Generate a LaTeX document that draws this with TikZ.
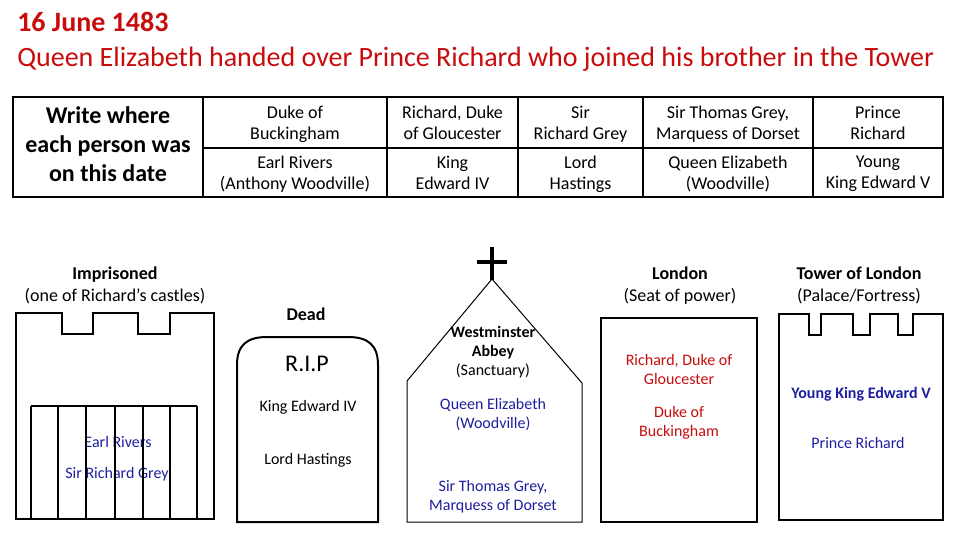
\documentclass[tikz,border=0pt]{standalone}
\usepackage{fontspec}
\setmainfont{Carlito}
\definecolor{tred}{RGB}{200,12,12}
\definecolor{tblue}{RGB}{30,30,160}
\tikzset{
  grid/.style={line width=1.5pt},
  shape line/.style={line width=1pt},
  thin line/.style={line width=0.75pt},
  struts/.style={execute at begin node=\strut, execute at end node=\strut},
  cell/.style={font=\fontsize{13.5}{15.75}\selectfont, align=center, inner sep=0pt, struts, yshift=-2.5pt},
  head/.style={font=\fontsize{13.5}{16.5}\selectfont, align=center, inner sep=0pt, struts, yshift=-2.5pt},
  inner/.style={font=\fontsize{12}{14.25}\selectfont, align=center, inner sep=0pt, struts, yshift=-1pt},
  titlefont/.style={font=\fontsize{21}{26}\selectfont, text=tred, inner sep=0pt, anchor=base west},
}
\begin{document}
\begin{tikzpicture}[x=0.75pt,y=-0.75pt]
\useasboundingbox (0,0) rectangle (960,540);

% title
\node[titlefont, font=\fontsize{21}{26}\selectfont\bfseries] (t1) at (17,31) {16 June 1483};
\node[titlefont] (t2) at (17,66) {Queen Elizabeth handed over Prince Richard who joined his brother in the Tower};

% table
\draw[grid] (13,97) rectangle (943,197);
\draw[grid] (203,97) -- (203,197);
\draw[grid] (387,97) -- (387,197);
\draw[grid] (518,97) -- (518,197);
\draw[grid] (643,97) -- (643,197);
\draw[grid] (813,97) -- (813,197);
\draw[grid] (203,148) -- (943,148);

\node[font=\fontsize{18}{21.75}\selectfont\bfseries, align=center, inner sep=0pt, struts, yshift=-3.5pt] (write) at (108,144) {Write where\\each person was\\on this date};
\node[cell] (c11) at (295,122.5) {Duke of\\Buckingham};
\node[cell] (c12) at (452.5,122.5) {Richard, Duke\\of Gloucester};
\node[cell] (c13) at (580.5,122.5) {Sir\\Richard Grey};
\node[cell] (c14) at (728,122.5) {Sir Thomas Grey,\\Marquess of Dorset};
\node[cell] (c15) at (878,122.5) {Prince\\Richard};
\node[cell] (c21) at (295,172.5) {Earl Rivers\\(Anthony Woodville)};
\node[cell] (c22) at (452.5,172.5) {King\\Edward IV};
\node[cell] (c23) at (580.5,172.5) {Lord\\Hastings};
\node[cell] (c24) at (728,172.5) {Queen Elizabeth\\(Woodville)};
\node[cell] (c25) at (878,172.5) {Young\\King Edward V};

% imprisoned castle
\node[head] (impr) at (115,284) {\textbf{Imprisoned}\\(one of Richard’s castles)};
\node[inner, text=tblue] (er) at (118,442) {Earl Rivers};
\node[inner, text=tblue] (srg) at (117,473) {Sir Richard Grey};
\draw[shape line] (16,519) -- (16,313) -- (62,313) -- (62,334) -- (93,334) -- (93,313)
  -- (138,313) -- (138,334) -- (170,334) -- (170,313) -- (214,313) -- (214,519) -- cycle;
\draw[shape line] (31,406) -- (197,406);
\foreach \x in {31,58,86,115,143,170,197} \draw[shape line] (\x,406) -- (\x,519);

% tombstone
\node[head, font=\fontsize{13.5}{16.5}\selectfont\bfseries] (dead) at (306,313) {Dead};
\draw[line width=1.5pt] (237,522) -- (237,365) .. controls (237,345) and (247,337) .. (267,337)
  -- (348,337) .. controls (368,337) and (378,345) .. (378,365) -- (378,522) -- cycle;
\node[inner, font=\fontsize{18}{21}\selectfont, yshift=-1pt] (rip) at (307,363) {R.I.P};
\node[inner] (ke4) at (308,406) {King Edward IV};
\node[inner] (lh) at (308,459) {Lord Hastings};

% church
\draw[thin line] (407,522) -- (407,381) -- (492,279) -- (582,383) -- (582,522) -- cycle;
\draw[line width=3pt] (492,247) -- (492,280);
\draw[line width=3pt] (477,262) -- (507,262);
\node[inner] (wa) at (493,352.5) {\textbf{Westminster}\\\textbf{Abbey}\\(Sanctuary)};
\node[inner, text=tblue] (qe) at (493,414.5) {Queen Elizabeth\\(Woodville)};
\node[inner, text=tblue] (stg) at (493,496.5) {Sir Thomas Grey,\\Marquess of Dorset};

% london
\node[head] (lon) at (680,284) {\textbf{London}\\(Seat of power)};
\draw[shape line] (601,318) rectangle (757,522);
\node[inner, text=tred] (rdg) at (679,370.5) {Richard, Duke of\\Gloucester};
\node[inner, text=tred] (dob) at (679,422.5) {Duke of\\Buckingham};

% tower
\node[head] (tol) at (859,284) {\textbf{Tower of London}\\(Palace/Fortress)};
\draw[shape line] (779,520) -- (779,314) -- (809,314) -- (809,335) -- (821,335) -- (821,314)
  -- (853,314) -- (853,335) -- (870,335) -- (870,314) -- (898,314) -- (898,335) -- (913,335)
  -- (913,314) -- (943,314) -- (943,520) -- cycle;
\node[inner, text=tblue, font=\fontsize{12}{14.25}\selectfont\bfseries] (yke) at (861,393) {Young King Edward V};
\node[inner, text=tblue] (pr) at (858,443) {Prince Richard};
\end{tikzpicture}
\end{document}
